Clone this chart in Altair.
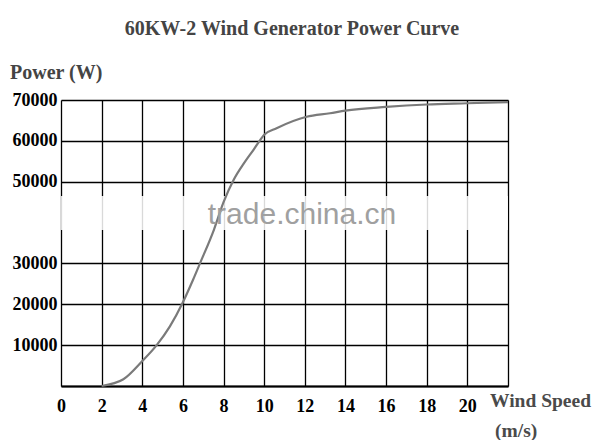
import altair as alt
import pandas as pd

# Data
wind_speed = [2, 3.07, 4, 4.71, 5.36, 6, 6.5, 6.84, 7.53, 8.0, 8.5, 9.0, 9.5, 9.8, 10.0, 10.61,
              12.09, 13.24, 14, 16, 18, 20, 22]
power_w = [0, 1650, 6100, 10000, 14600, 20500, 26000, 30000, 38300, 45000, 50500, 54500, 58000,
           60200, 61500, 63100, 65900, 66750, 67400, 68300, 68900, 69200, 69500]

x_ticks = [0, 2, 4, 6, 8, 10, 12, 14, 16, 18, 20, 22]
y_ticks = [0, 10000, 20000, 30000, 50000, 60000, 70000]

title_text = "60KW-2 Wind Generator Power Curve"
y_title = "Power (W)"
x_title_1 = "Wind Speed"
x_title_2 = "(m/s)"
watermark = "trade.china.cn"

df = pd.DataFrame({"wind": wind_speed, "power": power_w})
one = pd.DataFrame({"a": [0]})

SERIF = "Liberation Serif"

xscale = alt.Scale(domain=[0, 22], nice=False, zero=False)
yscale = alt.Scale(domain=[0, 70000], nice=False)

xaxis = alt.Axis(values=x_ticks, title=None, grid=True, gridColor="black", gridWidth=1.3,
                 gridOpacity=1, ticks=False, domain=True, domainColor="black", domainWidth=2,
                 labelFont=SERIF, labelFontWeight="bold", labelFontSize=18, labelColor="black",
                 labelPadding=11, labelFlush=False,
                 labelExpr="datum.value == 22 ? '' : datum.label")
yaxis = alt.Axis(values=y_ticks, title=None, grid=True, gridColor="black", gridWidth=1.3,
                 gridOpacity=1, ticks=False, domain=False, format="d",
                 labelFont=SERIF, labelFontWeight="bold", labelFontSize=18, labelColor="black",
                 labelPadding=4, labelExpr="datum.value == 0 ? '' : datum.label")

line = alt.Chart(df).mark_line(color="#7a7a7a", strokeWidth=2.2, interpolate="monotone").encode(
    x=alt.X("wind:Q", scale=xscale, axis=xaxis),
    y=alt.Y("power:Q", scale=yscale, axis=yaxis),
)

band = alt.Chart(pd.DataFrame({"y1": [38200], "y2": [46500], "x1": [0], "x2": [22]})).mark_rect(
    color="white", opacity=0.85
).encode(
    x=alt.X("x1:Q", scale=xscale), x2="x2:Q",
    y=alt.Y("y1:Q", scale=yscale), y2="y2:Q",
)

wm = alt.Chart(one).mark_text(text=watermark, font="Liberation Sans", fontSize=30,
                              color="#a0a0a0", align="center", baseline="alphabetic").encode(
    x=alt.value(241), y=alt.value(124))

title = alt.Chart(one).mark_text(text=title_text, font=SERIF, fontSize=20, fontWeight="bold",
                                 color="#444444", align="center", baseline="alphabetic").encode(
    x=alt.value(231), y=alt.value(-65))

ytitle = alt.Chart(one).mark_text(text=y_title, font=SERIF, fontSize=20, fontWeight="bold",
                                  color="#444444", align="left", baseline="alphabetic").encode(
    x=alt.value(-51), y=alt.value(-21))

xt1 = alt.Chart(one).mark_text(text=x_title_1, font=SERIF, fontSize=19.5, fontWeight="bold",
                               color="#4a4a4a", align="left", baseline="alphabetic").encode(
    x=alt.value(429), y=alt.value(21 + 286))

xt2 = alt.Chart(one).mark_text(text=x_title_2, font=SERIF, fontSize=19.5, fontWeight="bold",
                               color="#4a4a4a", align="left", baseline="alphabetic").encode(
    x=alt.value(434), y=alt.value(51 + 286))

chart = alt.layer(band, line, wm, title, ytitle, xt1, xt2).properties(
    width=447, height=286,
    autosize=alt.AutoSizeParams(type="none"),
    padding={"left": 53, "top": 92, "right": 85, "bottom": 54},
).configure_view(stroke=None).configure(background="white")

chart.save("out.html", embed_options={"renderer": "svg", "actions": False})
